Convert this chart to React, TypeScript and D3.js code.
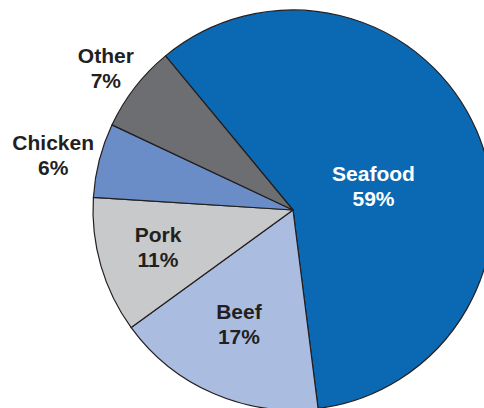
import * as d3 from 'd3';

const categories = ['Seafood', 'Beef', 'Pork', 'Chicken', 'Other'];
const shares = [59, 17, 11, 6, 7];

const colors = ['#0b68b3', '#aabde1', '#c8c9cb', '#6a8dc8', '#6d6e71'];
const textColors = ['#ffffff', '#231f20', '#231f20', '#231f20', '#231f20'];
// label placement: distance from centre and a small turn off the slice's mid angle (degrees)
const labelRadius = [84, 126, 140, 246, 235];
const labelTurn = [6.8, 2, 0.9, -1.5, -0.6];

export default function App() {
  const width = 484;
  const height = 408;
  const cx = 293;
  const cy = 210;
  const radius = 200;

  const start = (-39.6 * Math.PI) / 180;
  const pie = d3.pie<number>()
    .sort(null)
    .startAngle(start)
    .endAngle(start + 2 * Math.PI);
  const arcs = pie(shares);
  const arc = d3.arc<d3.PieArcDatum<number>>().innerRadius(0).outerRadius(radius);

  const font = '"Liberation Sans", Arial, sans-serif';

  return (
    <svg
      width={width}
      height={height}
      style={{ position: 'absolute', left: 0, top: 0, background: '#fff' }}
    >
      <g transform={`translate(${cx},${cy})`}>
        {arcs.map((a, i) => (
          <path
            key={categories[i]}
            d={arc(a) ?? ''}
            fill={colors[i]}
            stroke="#231f20"
            strokeWidth={1.2}
            strokeLinejoin="round"
          />
        ))}
        {arcs.map((a, i) => {
          const mid = (a.startAngle + a.endAngle) / 2 + (labelTurn[i] * Math.PI) / 180;
          const x = Math.sin(mid) * labelRadius[i];
          const y = -Math.cos(mid) * labelRadius[i];
          return (
            <text
              key={'l' + i}
              textAnchor="middle"
              fill={textColors[i]}
              fontFamily={font}
              fontWeight="bold"
              fontSize={21}
            >
              <tspan x={x} y={y - 5}>{categories[i]}</tspan>
              <tspan x={x} y={y + 20}>{shares[i]}%</tspan>
            </text>
          );
        })}
      </g>
    </svg>
  );
}
